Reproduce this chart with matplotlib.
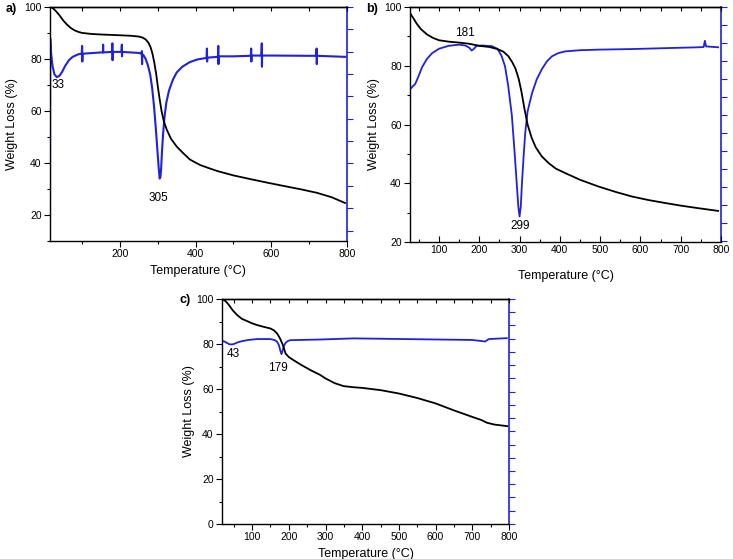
import numpy as np
import matplotlib.pyplot as plt
from matplotlib.ticker import MultipleLocator, NullFormatter

plt.rcParams['font.family'] = ['Liberation Sans', 'DejaVu Sans']

# ---- panel a) ----
a_tga_T = [15, 20, 25, 30, 40, 50, 60, 70, 80, 90, 100, 125, 150, 200, 230, 250, 260,
           268, 275, 281, 286, 291, 296, 300, 305, 310, 316, 324, 335, 350, 367, 385,
           412, 435, 457, 500, 544, 590, 631, 680, 721, 760, 795]
a_tga_W = [100, 99.8, 99.2, 98.5, 96.8, 94.8, 93.2, 91.9, 91, 90.4, 90, 89.6, 89.4, 89.1,
           88.9, 88.6, 88.2, 87.5, 86.3, 84.5, 82, 78.5, 74, 69.5, 64.5, 60, 56, 52.7,
           49.3, 46.3, 43.8, 41.3, 39.2, 38, 36.9, 35.2, 33.8, 32.4, 31.2, 29.8, 28.5,
           26.8, 24.6]
a_dtg_T = [15, 15.5, 18, 22, 27, 33, 40, 47, 55, 65, 75, 90, 99, 100, 100.5, 101, 150, 155,
           155.5, 156, 179, 180, 180.5, 181, 204, 205, 205.5, 206, 250, 257, 258, 258.5,
           259, 262, 268, 274, 280, 285, 290, 295, 299, 302, 305, 307, 309, 311, 314, 318,
           323, 330, 340, 350, 365, 385, 405, 429, 430, 430.5, 431, 459, 460, 460.5, 461,
           500, 546, 547, 547.5, 548, 574, 575, 575.5, 576, 600, 700, 719, 720, 720.5,
           721, 795]
a_dtg_V = [18, 88, 82, 77, 74, 73, 73.5, 75, 77.3, 79.5, 80.8, 81.8, 82, 85, 79, 82, 82.5,
           82.5, 85.5, 82.5, 82.7, 86, 79.5, 82.7, 82.7, 85.5, 81, 82.7, 82.3, 82, 83, 78,
           81.8, 81.5, 80, 77.5, 74, 69, 62, 53, 45, 39, 34, 34.5, 38, 44, 51, 58, 63.5,
           68, 72, 74.8, 77, 78.8, 79.8, 80.4, 84, 79, 80.5, 80.8, 85, 78, 81, 81, 81.2,
           84, 79, 81.3, 81.3, 86, 77, 81.3, 81.3, 81.2, 81.2, 84, 78, 81.2, 80.8]

# ---- panel b) ----
b_tga_T = [28, 35, 45, 55, 70, 85, 100, 125, 150, 175, 200, 225, 245, 260, 272, 282, 290,
           298, 305, 312, 320, 330, 340, 355, 372, 390, 413, 450, 496, 540, 579, 620, 661,
           700, 740, 793]
b_tga_W = [98, 96.5, 94.3, 92.5, 90.7, 89.5, 88.7, 88.2, 87.9, 87.5, 86.8, 86.4, 85.7,
           84.8, 83.3, 81.2, 79, 75.5, 71, 65.5, 60, 55.5, 52.3, 49.2, 46.9, 45, 43.5,
           41.2, 38.9, 37, 35.5, 34.3, 33.3, 32.4, 31.6, 30.6]
b_dtg_T = [28, 35, 41, 48, 58, 70, 83, 100, 124, 150, 165, 175, 181, 187, 193, 207, 231,
           245, 255, 264, 272, 281, 288, 293, 297, 300, 303, 306, 310, 314, 320, 331, 343,
           356, 368, 380, 396, 413, 450, 496, 579, 660, 744, 757, 760, 763, 793]
b_dtg_V = [72, 73, 73.8, 76, 79.5, 82.3, 84.3, 85.8, 86.8, 87.2, 86.9, 86.2, 85.2, 85.8,
           86.8, 86.9, 86.7, 85.8, 83.5, 79.8, 73, 63, 50, 40, 32, 28.7, 32, 40, 49, 57,
           64.5, 70.7, 75.5, 79, 81.5, 83.2, 84.3, 84.9, 85.3, 85.5, 85.7, 86, 86.3, 86.4,
           88.5, 86.6, 86.3]

# ---- panel c) ----
c_tga_T = [18, 28, 37, 47, 59, 72, 86, 100, 114, 130, 150, 160, 168, 175, 182, 187, 191,
           200, 213, 235, 259, 285, 300, 325, 349, 375, 400, 450, 500, 550, 600, 650, 700,
           725, 740, 760, 795]
c_tga_W = [100, 99, 97.3, 95, 92.9, 91.2, 90.2, 89.2, 88.4, 87.7, 86.9, 86, 84.7, 82.8,
           80.3, 78, 75.8, 74.2, 72.8, 70.6, 68.4, 66.3, 64.7, 62.6, 61.3, 60.8, 60.5,
           59.5, 58, 56, 53.6, 50.5, 47.6, 46.2, 45, 44.2, 43.5]
c_dtg_T = [18, 25, 32, 38, 45, 52, 60, 73, 90, 114, 150, 162, 168, 173, 177, 180, 183,
           187, 191, 197, 204, 286, 377, 513, 700, 726, 735, 745, 794]
c_dtg_V = [81.3, 81.1, 80.4, 79.9, 79.8, 80.1, 80.7, 81.3, 81.8, 82.2, 82.2, 81.7, 81,
           79.5, 77, 75.5, 77, 79.3, 80.5, 81.3, 81.7, 82, 82.5, 82.2, 81.8, 81.3, 81.1,
           82.2, 82.6]

BLUE = '#2020e0'

panels = [
    dict(pos=[0.0682, 0.569, 0.405, 0.4186], xlim=(15, 800), ylim=(10, 100),
         xmajor=200, xminor=100, xtop=100, xdir='out', xpad=4,
         rstep=8.6, rcount=11,
         tga=(a_tga_T, a_tga_W), dtg=(a_dtg_T, a_dtg_V), dlw=1.5,
         notes=[("33", 36, 69.8), ("305", 303, 26.5)],
         tag="a)", tagpos=(0.008, 0.995), ylab_x=-0.108),
    dict(pos=[0.5593, 0.567, 0.4243, 0.4204], xlim=(28, 800), ylim=(20, 100),
         xmajor=100, xminor=50, xtop=50, xdir='in', xpad=11,
         rstep=6.13, rcount=14,
         tga=(b_tga_T, b_tga_W), dtg=(b_dtg_T, b_dtg_V), dlw=1.3,
         notes=[("181", 164, 91.2), ("299", 301, 25.3)],
         tag="b)", tagpos=(0.499, 0.995), ylab_x=-0.096),
    dict(pos=[0.3029, 0.0626, 0.3915, 0.4025], xlim=(18, 800), ylim=(0, 100),
         xmajor=100, xminor=50, xtop=50, xdir='out', xpad=4,
         rstep=5.88, rcount=18,
         tga=(c_tga_T, c_tga_W), dtg=(c_dtg_T, c_dtg_V), dlw=1.3,
         notes=[("43", 48, 75.6), ("179", 171, 69.3)],
         tag="c)", tagpos=(0.245, 0.474), ylab_x=-0.094),
]

fig = plt.figure(figsize=(7.33, 5.59), dpi=100)

for p in panels:
    ax = fig.add_axes(p["pos"])
    ax2 = ax.twinx()
    ax.plot(*p["tga"], color='black', lw=1.3, zorder=3)
    ax2.plot(*p["dtg"], color=BLUE, lw=p["dlw"])
    ax.set_xlim(p["xlim"])
    ax.set_ylim(p["ylim"])
    ax2.set_ylim(p["ylim"])
    ax.set_zorder(ax2.get_zorder() + 1)
    ax.patch.set_visible(False)

    ax.xaxis.set_major_locator(MultipleLocator(p["xmajor"]))
    ax.xaxis.set_minor_locator(MultipleLocator(p["xminor"]))
    ax.yaxis.set_major_locator(MultipleLocator(20))
    ax.yaxis.set_minor_locator(MultipleLocator(10))
    ax.tick_params(which='major', direction='out', length=4, width=0.8,
                   labelsize=7.5, pad=2, top=False)
    ax.tick_params(which='minor', direction='out', length=2.5, width=0.8, top=False)
    ax.tick_params(axis='x', which='both', direction=p["xdir"])

    # top ticks
    top = ax.secondary_xaxis('top')
    top.xaxis.set_major_locator(MultipleLocator(p["xtop"]))
    top.xaxis.set_major_formatter(NullFormatter())
    top.tick_params(direction='in', length=3, width=0.8)

    # right (blue) axis, no labels
    rt = p["ylim"][1] - p["rstep"] * np.arange(p["rcount"])
    ax2.set_yticks(rt)
    ax2.set_yticklabels([])
    ax2.tick_params(axis='y', colors=BLUE, direction='out', length=4, width=0.8)
    ax2.spines['right'].set_color(BLUE)
    ax2.spines['right'].set_linewidth(1.2)
    for s in ['left', 'top', 'bottom']:
        ax2.spines[s].set_visible(False)
    for s in ['left', 'bottom', 'top']:
        ax.spines[s].set_linewidth(1.0)
    ax.spines['right'].set_visible(False)
    top.spines['top'].set_linewidth(1.0)

    ax.set_xlabel("Temperature (°C)", fontsize=9, labelpad=p["xpad"])
    ax.set_ylabel("Weight Loss (%)", fontsize=9)
    ax.yaxis.set_label_coords(p["ylab_x"], 0.5)

    for txt, x, y in p["notes"]:
        ax.text(x, y, txt, fontsize=8.5, ha='center', va='center', zorder=5)

    fig.text(p["tagpos"][0], p["tagpos"][1], p["tag"], fontsize=9,
             fontweight='bold', ha='left', va='top')

fig.savefig("out.png", dpi=100)
